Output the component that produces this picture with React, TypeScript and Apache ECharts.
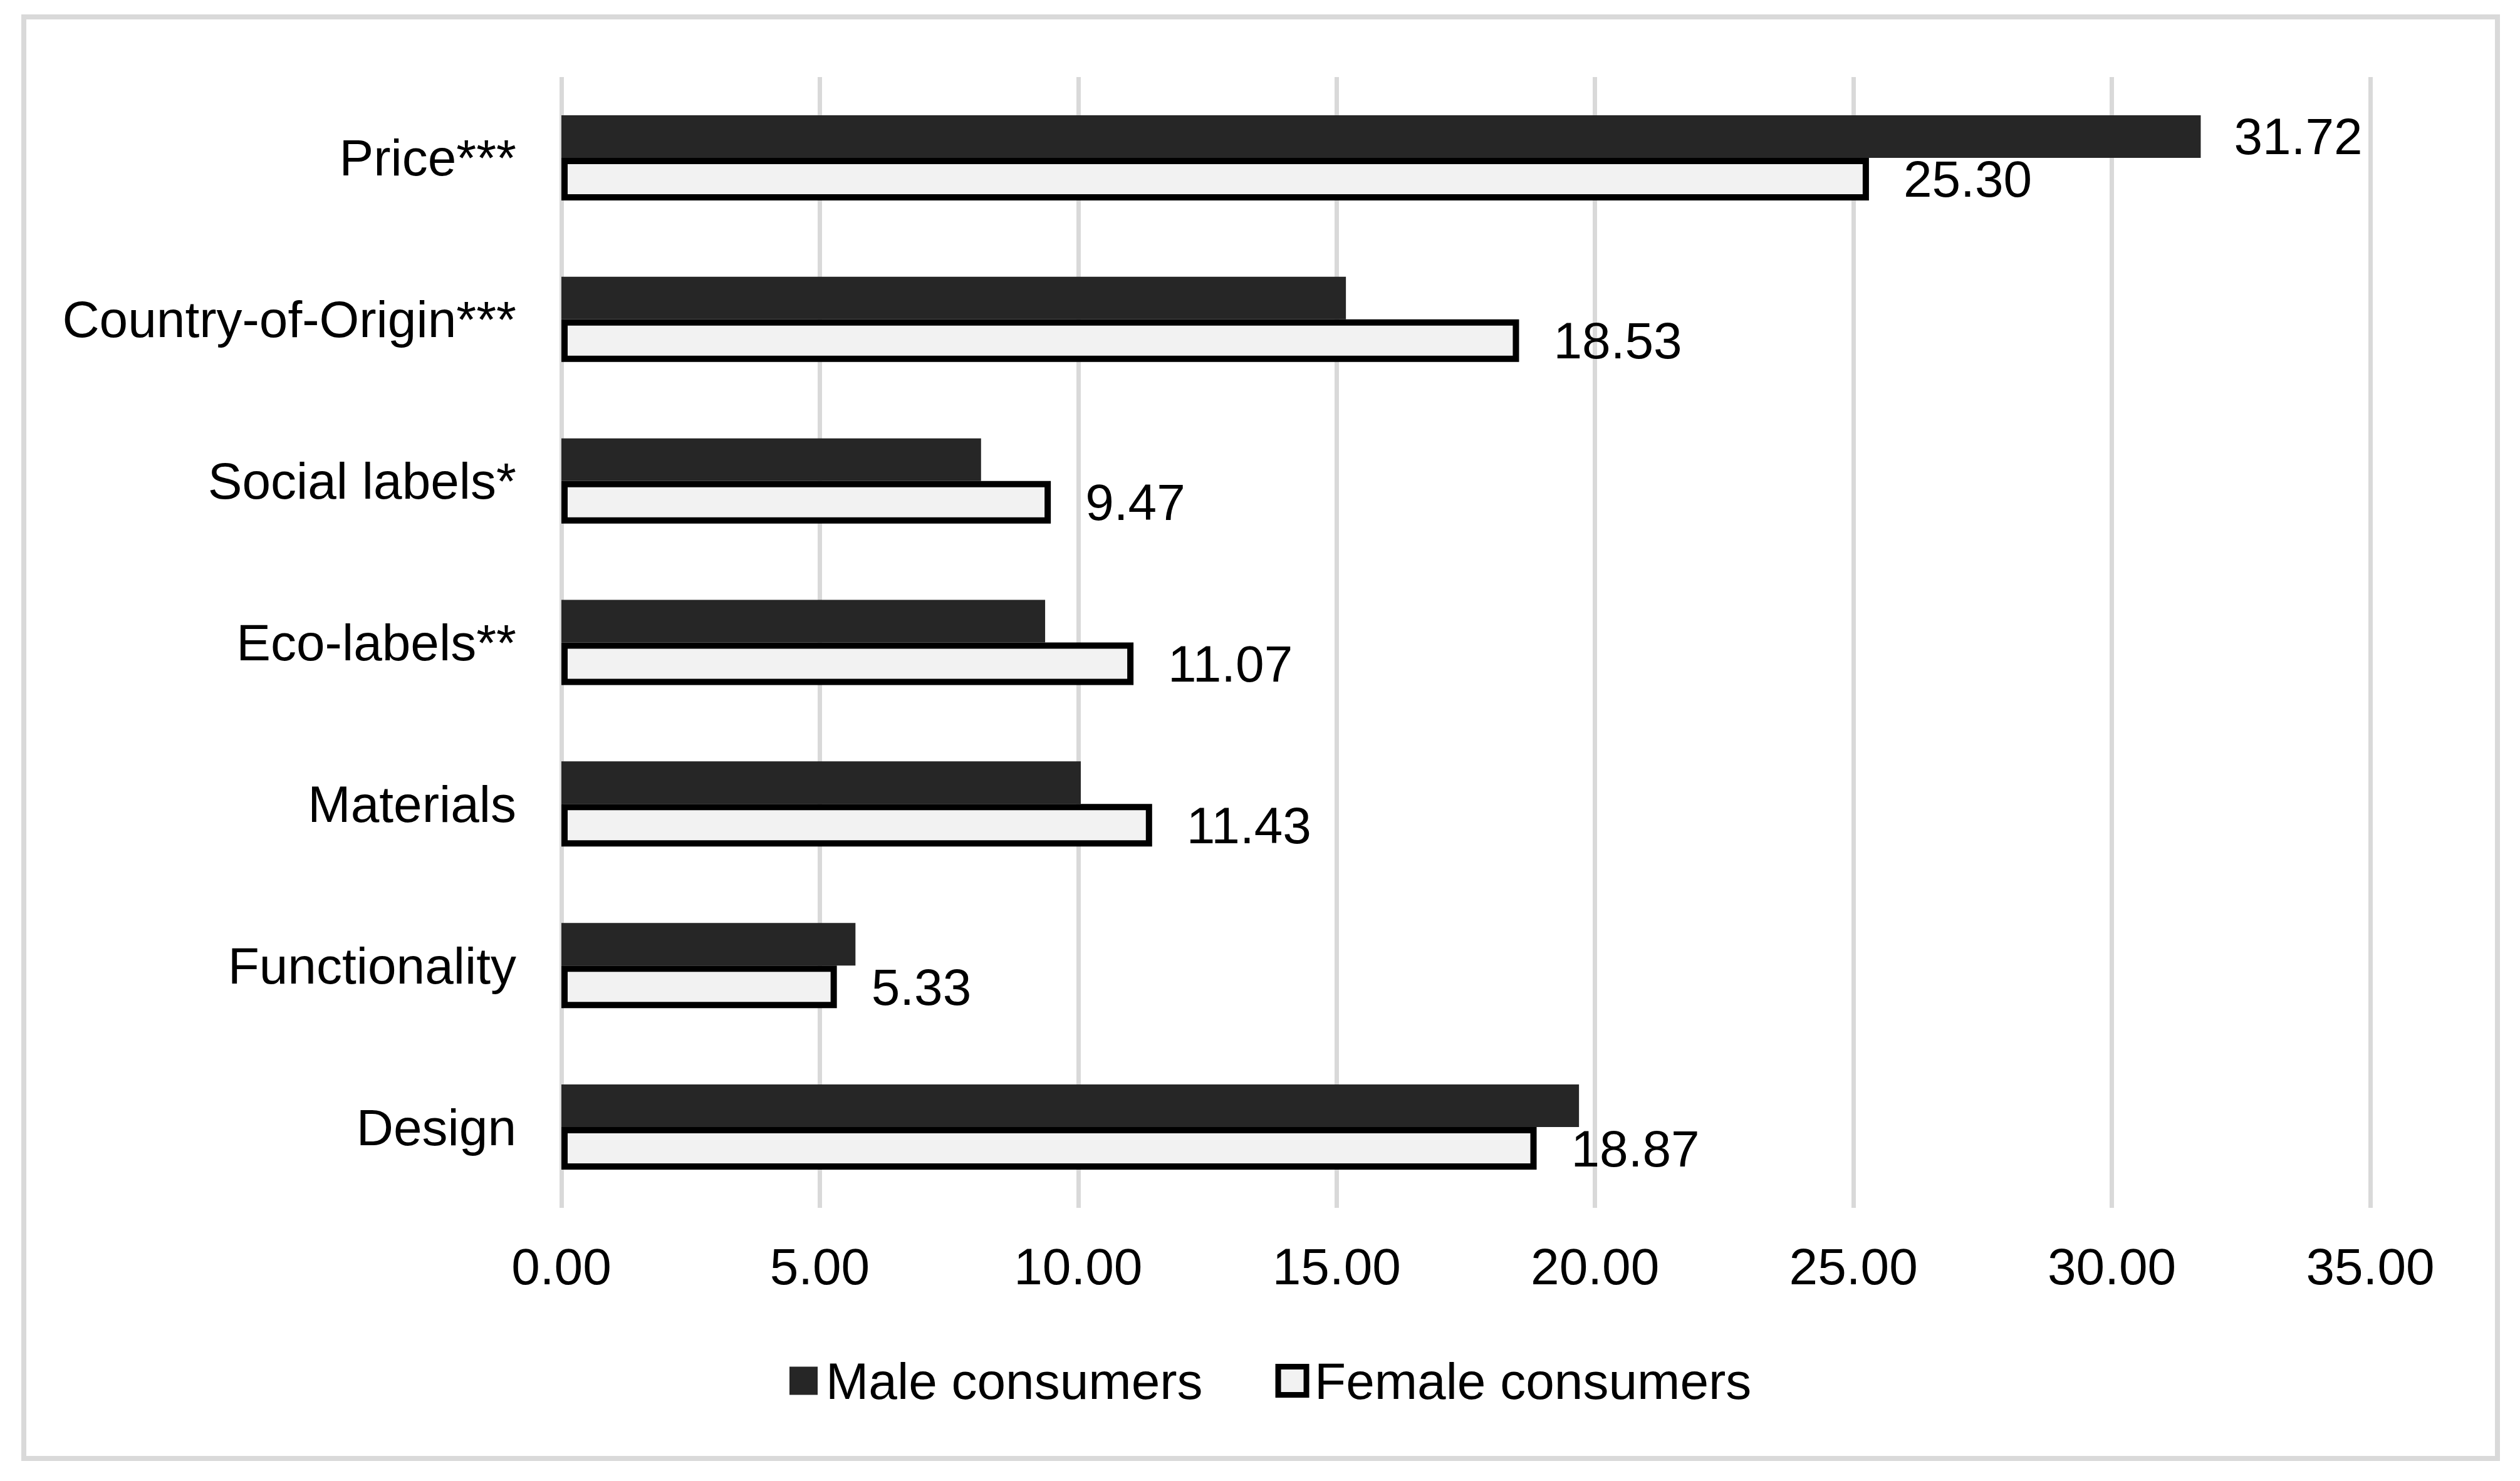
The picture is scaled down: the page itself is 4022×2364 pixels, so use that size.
import React, { useEffect, useRef } from "react";
import * as echarts from "echarts";

const categories = [
  "Price***",
  "Country-of-Origin***",
  "Social labels*",
  "Eco-labels**",
  "Materials",
  "Functionality",
  "Design",
];
const maleValues = [31.72, 15.18, 8.12, 9.36, 10.05, 5.69, 19.69];
const femaleValues = [25.3, 18.53, 9.47, 11.07, 11.43, 5.33, 18.87];
const maleLabelShown = [true, false, false, false, false, false, false];
const seriesNames = ["Male consumers", "Female consumers"];
const xTicks = { min: 0, max: 35, interval: 5 };

const FONT = "'Liberation Sans', Arial, sans-serif";
const FS = 82;

export default function App() {
  const ref = useRef<HTMLDivElement>(null);
  useEffect(() => {
    if (!ref.current) return;
    const chart = echarts.init(ref.current, null, { renderer: "svg" });
    const fmt = (p: any) => Number(p.value).toFixed(2);
    chart.setOption({
      animation: false,
      backgroundColor: "#ffffff",
      textStyle: { fontFamily: FONT },
      grid: { left: 896, right: 239, top: 123, bottom: 436, containLabel: false },
      graphic: [
        {
          type: "rect",
          shape: { x: 38, y: 27, width: 3948, height: 2301 },
          style: { fill: "none", stroke: "#d9d9d9", lineWidth: 8 },
          z: -10,
        },
      ],
      legend: {
        left: 1255,
        top: 2158,
        itemWidth: 45,
        itemHeight: 45,
        itemGap: 116,
        textStyle: { fontFamily: FONT, fontSize: FS, color: "#000", padding: [0, 0, 0, 8] },
        data: [
          { name: seriesNames[0], icon: "rect", itemStyle: { color: "#262626", borderWidth: 0 } },
          {
            name: seriesNames[1],
            icon: "rect",
            itemStyle: { color: "#f2f2f2", borderColor: "#000", borderWidth: 9 },
          },
        ],
      },
      xAxis: {
        type: "value",
        min: xTicks.min,
        max: xTicks.max,
        interval: xTicks.interval,
        axisLine: { show: false },
        axisTick: { show: false },
        splitLine: { show: true, lineStyle: { color: "#d9d9d9", width: 7 } },
        axisLabel: {
          margin: 52,
          fontFamily: FONT,
          fontSize: FS,
          color: "#000",
          formatter: (v: number) => v.toFixed(2),
        },
      },
      yAxis: {
        type: "category",
        inverse: true,
        data: categories,
        axisLine: { show: false },
        axisTick: { show: false },
        splitLine: { show: false },
        axisLabel: { margin: 72, fontFamily: FONT, fontSize: FS, color: "#000" },
      },
      series: [
        {
          name: seriesNames[0],
          type: "bar",
          barWidth: 68,
          barGap: "0%",
          itemStyle: { color: "#262626" },
          z: 3,
          data: maleValues.map((v, i) => ({
            value: v,
            label: {
              show: maleLabelShown[i],
              position: "right",
              distance: 53,
              fontFamily: FONT,
              fontSize: FS,
              color: "#000",
              formatter: fmt,
            },
          })),
        },
        {
          name: seriesNames[1],
          type: "bar",
          barWidth: 68,
          barGap: "0%",
          itemStyle: { color: "#f2f2f2", borderColor: "#000", borderWidth: 10 },
          z: 2,
          label: {
            show: true,
            position: "right",
            distance: 55,
            fontFamily: FONT,
            fontSize: FS,
            color: "#000",
            formatter: fmt,
          },
          data: femaleValues,
        },
      ],
    });
    return () => chart.dispose();
  }, []);
  return (
    <div
      ref={ref}
      style={{ position: "fixed", left: 0, top: 0, width: 4022, height: 2364, background: "#fff" }}
    />
  );
}
